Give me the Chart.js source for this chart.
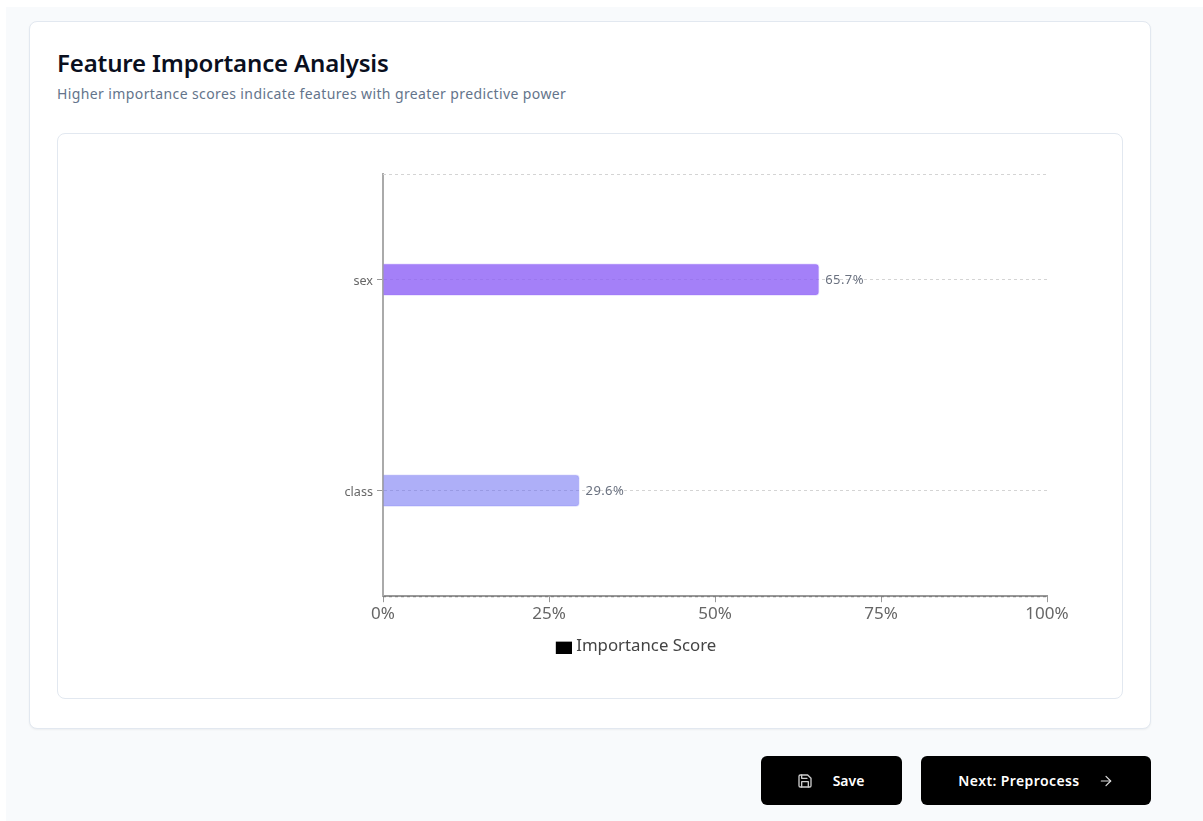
<!DOCTYPE html>
<html>
<head>
<meta charset="utf-8">
<title>Feature Importance Analysis</title>
<script src="https://cdn.jsdelivr.net/npm/chart.js@4"></script>
<style>
	html, body {margin: 0; padding: 0; background: #fff; width: 1203px; height: 821px; overflow: hidden; font-family: "Noto Sans", sans-serif;}
	.page {position: absolute; left: 6px; top: 7px; width: 1197px; height: 814px; background: #f8fafc;}
	.card {position: absolute; left: 29px; top: 21px; width: 1120px; height: 706px; background: #fff; border: 1px solid #e2e8f0; border-radius: 8px; box-shadow: 0 1px 2px rgba(0, 0, 0, 0.05);}
	.inner {position: absolute; left: 57px; top: 133px; width: 1064px; height: 564px; background: #fff; border: 1px solid #e2e8f0; border-radius: 8px;}
	h1 {position: absolute; left: 57px; top: 46px; margin: 0; font-size: 24px; line-height: 34px; font-weight: 600; color: #0a0f1e; letter-spacing: -0.15px;}
	p {position: absolute; left: 57px; top: 84px; margin: 0; font-size: 14px; line-height: 20px; color: #64748b; letter-spacing: 0.39px;}
	#chartBox {position: absolute; left: 225px; top: 134px; width: 898px; height: 564px;}
	.btn {position: absolute; top: 756px; height: 49px; background: #000; color: #fff; border-radius: 6px; font-size: 14px; font-weight: 600; display: flex; align-items: center; justify-content: center;}
	.btn svg {display: block;}
</style>
</head>
<body>
<div class="page"></div>
<div class="card"></div>
<h1>Feature Importance Analysis</h1>
<p>Higher importance scores indicate features with greater predictive power</p>
<div class="inner"></div>
<div id="chartBox"><canvas id="importanceChart" width="898" height="564"></canvas></div>
<div class="btn" style="left:761px;width:141px;">
	<svg width="16" height="16" viewBox="0 0 24 24" fill="none" stroke="#ccc" stroke-width="2" stroke-linecap="round" stroke-linejoin="round" style="margin-right:20px;margin-left:-2px"><path d="M19 21H5a2 2 0 0 1-2-2V5a2 2 0 0 1 2-2h11l5 5v11a2 2 0 0 1-2 2z"/><path d="M17 21v-8H7v8"/><path d="M7 3v5h8"/></svg>
	<span>Save</span>
</div>
<div class="btn" style="left:921px;width:230px;">
	<span style="letter-spacing:0.4px">Next: Preprocess</span>
	<svg width="16" height="16" viewBox="0 0 24 24" fill="none" stroke="#ddd" stroke-width="1.8" stroke-linecap="round" stroke-linejoin="round" style="margin-left:18px"><path d="M5 12h14"/><path d="M12 5l7 7-7 7"/></svg>
</div>
<script>
const categories = ['sex', 'class'];
const importance = [65.7, 29.6];
const barColors = ['rgba(139, 92, 246, 0.78)', 'rgba(99, 102, 241, 0.52)'];
const barBorders = ['rgba(139, 92, 246, 0.15)', 'rgba(99, 102, 241, 0.15)'];
const xTicks = [0, 25, 50, 75, 100];
const seriesName = 'Importance Score';

// legend swatch, with blank space on the left so the text sits closer to it
function legendSwatch() {
	const swatch = document.createElement('canvas');
	swatch.width = 20;
	swatch.height = 14;
	const c = swatch.getContext('2d');
	c.fillStyle = '#000';
	c.fillRect(4, 2, 16, 12);
	return swatch;
}

// top and bottom dashed lines of the grid, the category axis has no tick there
const edgeGrid = {
	id: 'edgeGrid',
	beforeDatasetsDraw(chart) {
		const {ctx, chartArea} = chart;
		ctx.save();
		ctx.lineWidth = 1;
		ctx.setLineDash([3, 3]);
		ctx.strokeStyle = '#d4d4d4';
		ctx.beginPath();
		ctx.moveTo(chartArea.left, chartArea.top + 0.5);
		ctx.lineTo(chartArea.right, chartArea.top + 0.5);
		ctx.stroke();
		ctx.strokeStyle = '#777';
		ctx.beginPath();
		ctx.moveTo(chartArea.left, chartArea.bottom + 0.5);
		ctx.lineTo(chartArea.right, chartArea.bottom + 0.5);
		ctx.stroke();
		ctx.restore();
	}
};

const barLabels = {
	id: 'barLabels',
	afterDatasetsDraw(chart) {
		const {ctx} = chart;
		const meta = chart.getDatasetMeta(0);
		ctx.save();
		ctx.font = '13px "Noto Sans", sans-serif';
		ctx.letterSpacing = '0.4px';
		ctx.fillStyle = '#6b7280';
		ctx.textBaseline = 'middle';
		meta.data.forEach((bar, i) => {
			ctx.fillText(importance[i].toFixed(1) + '%', bar.x + 6, bar.y + 1);
		});
		ctx.restore();
	}
};

new Chart(document.getElementById('importanceChart').getContext('2d'), {
	type: 'bar',
	data: {
		labels: categories,
		datasets: [{
			label: seriesName,
			data: importance,
			backgroundColor: barColors,
			borderColor: barBorders,
			borderWidth: 1,
			borderRadius: {topRight: 4, bottomRight: 4},
			borderSkipped: 'left',
			barThickness: 32
		}]
	},
	options: {
		indexAxis: 'y',
		responsive: false,
		animation: false,
		layout: {padding: {top: 40, right: 76, bottom: 33, left: 0}},
		scales: {
			x: {
				min: 0,
				max: 100,
				afterBuildTicks: axis => { axis.ticks = xTicks.map(value => ({value})); },
				afterFit: axis => { axis.height = 32; },
				border: {color: '#999', width: 2},
				grid: {drawOnChartArea: false, drawTicks: true, tickLength: 6, tickColor: '#999'},
				ticks: {
					color: '#666',
					font: {size: 17, family: '"Noto Sans", sans-serif'},
					padding: 2,
					maxRotation: 0,
					callback: value => value + '%'
				}
			},
			y: {
				afterFit: axis => { axis.width = 158; },
				border: {color: '#aaa', width: 2, dash: [3, 3]},
				grid: {
					offset: false,
					color: '#d4d4d4',
					lineWidth: 1,
					tickColor: '#999',
					tickLength: 6,
					tickBorderDash: []
				},
				ticks: {color: '#666', font: {size: 12.6, family: '"Noto Sans", sans-serif'}, padding: 4, labelOffset: 2}
			}
		},
		plugins: {
			tooltip: {enabled: false},
			legend: {
				position: 'bottom',
				labels: {
					usePointStyle: true,
					boxWidth: 12,
					color: '#444',
					font: {size: 16.8, family: '"Noto Sans", sans-serif'},
					generateLabels: () => [{text: seriesName, pointStyle: legendSwatch(), fillStyle: '#000', strokeStyle: '#000', lineWidth: 0, fontColor: '#444'}]
				}
			}
		}
	},
	plugins: [edgeGrid, barLabels]
});
</script>
</body>
</html>
